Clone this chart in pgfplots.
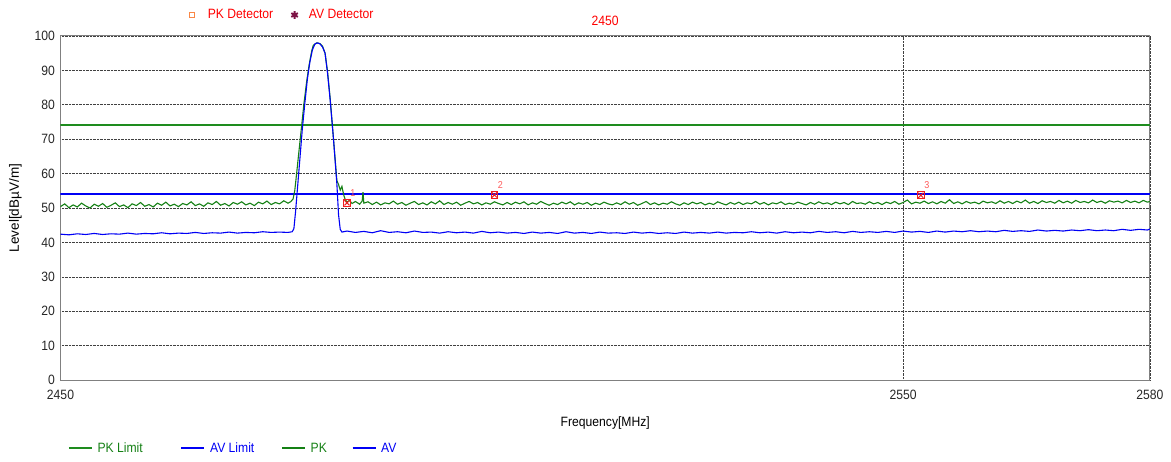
\documentclass[border=0pt]{standalone}
\usepackage{fontspec}
\setmainfont{Liberation Sans}[FakeStretch=0.9]
\newfontfamily\labfont{Liberation Sans}
\usepackage{pgfplots}
\usepackage{pgfplotstable}
\pgfplotsset{compat=1.18}

\definecolor{pkgreen}{RGB}{20,128,20}
\definecolor{limgreen}{RGB}{30,140,30}
\definecolor{avblue}{RGB}{0,0,245}
\definecolor{axisgray}{RGB}{128,128,128}
\definecolor{mkred}{RGB}{240,30,30}
\definecolor{lblred}{RGB}{255,0,0}
\definecolor{numred}{RGB}{255,90,90}
\definecolor{avdet}{RGB}{125,20,70}
\definecolor{pkdet}{RGB}{250,135,70}

% Peak detector trace
\pgfplotstableread{
f lvl
2450 50.4
2450.5 51.2
2451 50.1
2451.5 50.9
2452 50.3
2452.5 51.4
2453 50.6
2453.5 50.0
2454 51.1
2454.5 50.5
2455 51.3
2455.5 50.2
2456 50.8
2456.5 51.5
2457 50.4
2457.5 50.9
2458 50.1
2458.5 51.2
2459 50.7
2459.5 51.6
2460 50.5
2460.5 51.0
2461 50.3
2461.5 51.4
2462 50.8
2462.5 51.7
2463 50.6
2463.5 51.1
2464 50.4
2464.5 51.3
2465 50.9
2465.5 51.8
2466 50.7
2466.5 51.2
2467 50.5
2467.5 51.5
2468 51.0
2468.5 51.9
2469 50.8
2469.5 51.3
2470 50.6
2470.5 51.6
2471 51.1
2471.5 51.8
2472 50.9
2472.5 51.4
2473 50.7
2473.5 51.7
2474 51.2
2474.5 52.0
2475 51.0
2475.5 51.6
2476 51.2
2476.5 52.1
2477 51.4
2477.3 51.8
2477.6 52.6
2477.8 55.0
2478.0 59.5
2478.3 66.5
2478.6 73.5
2478.9 80.5
2479.2 86.5
2479.5 91.5
2479.8 95.5
2480.0 97.3
2480.4 98.0
2480.8 97.8
2481.1 97.0
2481.4 95.0
2481.7 89.5
2482.0 82.0
2482.4 70.0
2482.8 58.0
2483.0 56.8
2483.2 55.2
2483.4 56.3
2483.6 53.9
2483.8 52.4
2484.0 51.7
2484.3 52.2
2484.6 51.3
2485.0 51.9
2485.5 51.1
2485.8 52.0
2485.9 54.6
2486.0 51.4
2486.5 51.8
2487.0 51.0
2487.5 51.7
2488.0 50.9
2488.5 51.5
2489.0 51.2
2489.5 52.0
2490.0 51.1
2490.5 51.6
2491.0 50.8
2491.5 51.4
2492.0 51.9
2492.5 51.0
2493.0 51.5
2493.5 50.9
2494.0 51.8
2494.5 51.2
2495.0 52.1
2495.5 51.0
2496.0 51.6
2496.5 51.1
2497.0 51.7
2497.5 50.8
2498.0 51.4
2498.5 51.9
2499.0 51.2
2499.5 51.6
2500.0 50.9
2500.5 51.5
2501.0 51.1
2501.5 51.8
2502.0 51.3
2502.5 50.9
2503.0 51.6
2503.5 51.0
2504.0 51.7
2504.5 51.2
2505.0 51.8
2505.5 50.9
2506.0 51.5
2506.5 51.1
2507.0 51.9
2507.5 51.3
2508.0 50.8
2508.5 51.4
2509.0 51.0
2509.5 51.7
2510.0 51.2
2510.5 51.8
2511.0 50.9
2511.5 51.5
2512.0 51.1
2512.5 51.6
2513.0 50.8
2513.5 51.4
2514.0 51.0
2514.5 51.7
2515.0 51.2
2515.5 50.9
2516.0 51.5
2516.5 51.0
2517.0 51.8
2517.5 51.1
2518.0 51.6
2518.5 50.8
2519.0 51.3
2519.5 51.9
2520.0 51.0
2520.5 51.5
2521.0 50.9
2521.5 51.4
2522.0 51.1
2522.5 51.8
2523.0 51.2
2523.5 50.8
2524.0 51.5
2524.5 51.0
2525.0 51.7
2525.5 51.2
2526.0 51.6
2526.5 50.9
2527.0 51.4
2527.5 51.0
2528.0 51.8
2528.5 51.3
2529.0 50.9
2529.5 51.6
2530.0 51.1
2530.5 51.7
2531.0 51.0
2531.5 51.5
2532.0 51.2
2532.5 51.9
2533.0 51.1
2533.5 51.6
2534.0 50.9
2534.5 51.5
2535.0 51.2
2535.5 51.8
2536.0 51.0
2536.5 51.4
2537.0 51.1
2537.5 51.7
2538.0 51.3
2538.5 50.9
2539.0 51.6
2539.5 51.1
2540.0 51.8
2540.5 51.2
2541.0 51.5
2541.5 51.0
2542.0 51.7
2542.5 51.2
2543.0 51.6
2543.5 51.0
2544.0 51.9
2544.5 51.3
2545.0 51.5
2545.5 51.1
2546.0 51.8
2546.5 51.2
2547.0 51.6
2547.5 51.0
2548.0 51.7
2548.5 51.3
2549.0 51.9
2549.5 51.1
2550.0 51.6
2550.5 52.3
2551.0 51.2
2551.5 51.7
2552.0 51.4
2552.5 52.0
2553.0 51.3
2553.5 51.8
2554.0 51.2
2554.5 51.9
2555.0 51.4
2555.5 52.4
2556.0 51.3
2556.5 51.8
2557.0 51.2
2557.5 51.9
2558.0 51.4
2558.5 51.7
2559.0 51.2
2559.5 52.0
2560.0 51.5
2560.5 51.8
2561.0 51.3
2561.5 52.1
2562.0 51.4
2562.5 51.9
2563.0 51.3
2563.5 52.0
2564.0 51.5
2564.5 52.3
2565.0 51.4
2565.5 51.9
2566.0 51.3
2566.5 52.1
2567.0 51.6
2567.5 51.9
2568.0 51.4
2568.5 52.2
2569.0 51.5
2569.5 52.0
2570.0 51.4
2570.5 52.2
2571.0 51.6
2571.5 51.9
2572.0 51.5
2572.5 52.3
2573.0 51.6
2573.5 52.0
2574.0 51.4
2574.5 52.1
2575.0 51.7
2575.5 52.0
2576.0 51.5
2576.5 52.2
2577.0 51.6
2577.5 52.0
2578.0 51.5
2578.5 52.2
2579.0 51.7
2579.3 51.9
}\pktrace

% Average detector trace
\pgfplotstableread{
f lvl
2450 42.4
2451 42.2
2452 42.5
2453 42.3
2454 42.6
2455 42.3
2456 42.5
2457 42.4
2458 42.7
2459 42.4
2460 42.6
2461 42.5
2462 42.8
2463 42.5
2464 42.7
2465 42.6
2466 42.9
2467 42.6
2468 42.8
2469 42.7
2470 43.0
2471 42.7
2472 42.9
2473 42.8
2474 43.1
2475 42.9
2476 43.0
2477 42.9
2477.5 43.1
2477.7 44.0
2477.9 49.0
2478.1 55.0
2478.4 64.0
2478.7 73.0
2479.0 80.5
2479.3 87.5
2479.6 92.5
2479.9 96.0
2480.2 97.7
2480.5 98.0
2480.8 97.7
2481.1 96.8
2481.4 95.0
2481.7 89.0
2482.0 81.5
2482.4 70.0
2482.8 57.0
2483.0 48.0
2483.2 43.8
2483.4 43.0
2484 43.3
2485 42.9
2486 43.2
2487 42.8
2488 43.4
2489 42.9
2490 43.1
2491 42.8
2492 43.3
2493 42.9
2494 43.0
2495 42.7
2496 43.1
2497 42.8
2498 43.0
2499 42.7
2500 43.2
2501 42.8
2502 43.0
2503 42.7
2504 42.9
2505 42.6
2506 43.0
2507 42.7
2508 42.9
2509 42.6
2510 43.1
2511 42.7
2512 42.9
2513 42.6
2514 43.0
2515 42.7
2516 42.8
2517 42.6
2518 43.0
2519 42.7
2520 42.9
2521 42.6
2522 42.8
2523 42.6
2524 43.0
2525 42.7
2526 42.9
2527 42.7
2528 43.0
2529 42.7
2530 42.9
2531 42.8
2532 43.1
2533 42.8
2534 43.0
2535 42.7
2536 43.1
2537 42.8
2538 43.0
2539 42.8
2540 43.2
2541 42.9
2542 43.1
2543 42.8
2544 43.2
2545 42.9
2546 43.1
2547 42.9
2548 43.2
2549 42.9
2550 43.3
2551 43.0
2552 43.2
2553 42.9
2554 43.3
2555 43.0
2556 43.3
2557 43.1
2558 43.4
2559 43.1
2560 43.3
2561 43.1
2562 43.5
2563 43.2
2564 43.4
2565 43.2
2566 43.6
2567 43.3
2568 43.5
2569 43.3
2570 43.6
2571 43.4
2572 43.7
2573 43.4
2574 43.6
2575 43.4
2576 43.8
2577 43.5
2578 43.8
2579 43.6
2579.3 43.9
}\avtrace

\begin{document}
\begin{tikzpicture}[font=\fontsize{13.5}{15}\selectfont]
\useasboundingbox (0,0) rectangle (1171pt,461pt);

\begin{axis}[
  at={(60.5pt,81pt)}, anchor=south west,
  scale only axis, width=1089.5pt, height=344pt,
  xmin=2450, xmax=2579.3, ymin=0, ymax=100,
  xtick={2450,2550,2579.3}, xticklabels={2450,2550,2580},
  ytick={0,10,...,100},
  major tick length=0pt,
  grid=major,
  major grid style={densely dotted, black!75, line width=0.6pt},
  axis line style={axisgray, line width=1pt},
  /pgf/number format/assume math mode=true,
  tick label style={font=\fontsize{13.5}{15}\selectfont, text=black!85},
  xticklabel style={yshift=-7pt},
  yticklabel style={xshift=-2pt},
  xlabel={Frequency[MHz]},
  xlabel style={at={(axis description cs:0.5,-0.125)}, anchor=center},
  ylabel={\labfont Level[dBµV/m]},
  ylabel style={at={(axis description cs:-0.0413,0.5)}, anchor=center, rotate=0},
  title={2450},
  title style={at={(axis description cs:0.5,1.026)}, anchor=center, text=lblred},
  legend columns=4,
  legend style={at={(axis description cs:0.0069,-0.198)}, anchor=west,
    draw=none, fill=none, inner sep=0pt,
    /tikz/column 1/.style={column sep=3pt},
    /tikz/column 2/.style={column sep=36pt},
    /tikz/column 3/.style={column sep=3pt},
    /tikz/column 4/.style={column sep=25pt},
    /tikz/column 5/.style={column sep=3pt},
    /tikz/column 6/.style={column sep=23pt},
    /tikz/column 7/.style={column sep=3pt}},
  legend image code/.code={\draw[#1, line width=1.3pt] (0pt,0pt) -- (23pt,0pt);},
]
\addplot[limgreen, line width=2pt] coordinates {(2450,74) (2579.3,74)};
\addlegendentry{\textcolor{pkgreen}{PK Limit}}
\addplot[avblue, line width=1.8pt] coordinates {(2450,54) (2579.3,54)};
\addlegendentry{\textcolor{avblue}{AV Limit}}
\addplot[pkgreen, line width=1.1pt] table[x=f, y=lvl] {\pktrace};
\addlegendentry{\textcolor{pkgreen}{PK}}
\addplot[avblue, line width=1.1pt] table[x=f, y=lvl] {\avtrace};
\addlegendentry{\textcolor{avblue}{AV}}

% measured points
\addplot[only marks, mark=x, mkred, mark size=3.6pt, line width=1pt, forget plot]
  coordinates {(2484.0,51.5) (2501.5,53.8) (2552.1,53.7)};
\addplot[only marks, mark=square, mkred, mark size=3.3pt, line width=1pt, forget plot,
  point meta=explicit symbolic, nodes near coords,
  every node near coord/.append style={anchor=center, xshift=6pt, yshift=10pt,
    text=numred, font=\fontsize{10}{11}\selectfont}]
  coordinates {(2484.0,51.5) [1] (2501.5,53.8) [2] (2552.1,53.7) [3]};
\end{axis}

% detector legend
\begin{axis}[
  at={(60.5pt,81pt)}, anchor=south west,
  scale only axis, width=1089.5pt, height=344pt,
  xmin=0, xmax=1, ymin=0, ymax=1, hide axis,
  legend columns=2,
  legend style={at={(axis description cs:0.1183,1.061)}, anchor=west,
    draw=none, fill=none, inner sep=0pt,
    /tikz/column 1/.style={column sep=11pt},
    /tikz/column 2/.style={column sep=16pt},
    /tikz/column 3/.style={column sep=9pt}},
]
\addlegendimage{only marks, mark=square, pkdet, mark size=2.6pt, line width=0.9pt}
\addlegendentry{\textcolor{lblred}{PK Detector}}
\addlegendimage{only marks, mark=asterisk, avdet, mark size=3.8pt, line width=1.9pt}
\addlegendentry{\textcolor{lblred}{AV Detector}}
\end{axis}
\end{tikzpicture}
\end{document}
